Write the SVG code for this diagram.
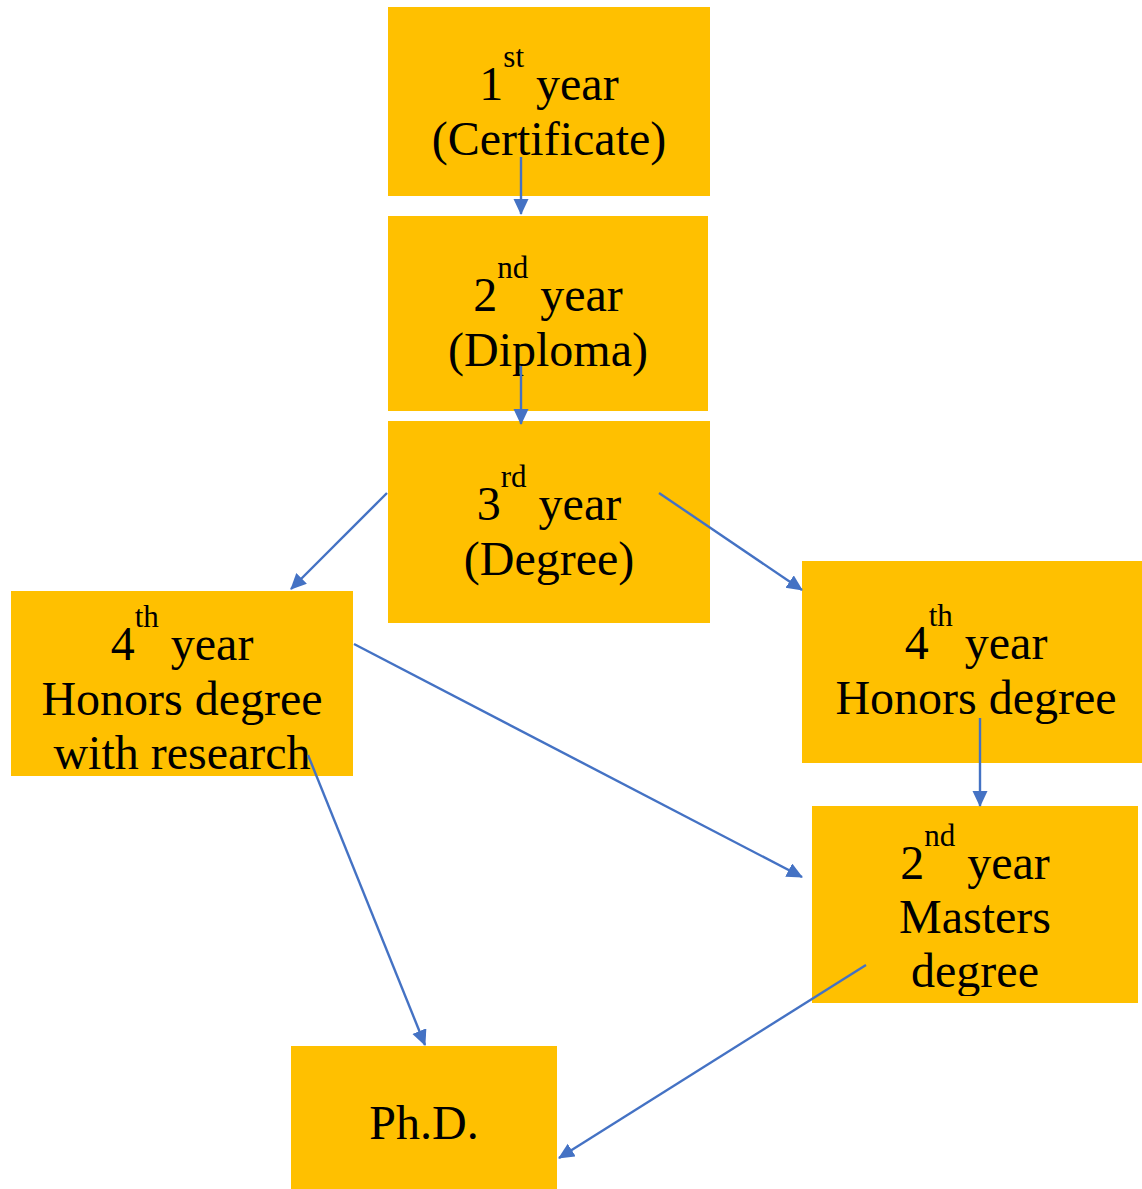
<svg xmlns="http://www.w3.org/2000/svg" width="1142" height="1189" viewBox="0 0 1142 1189">
<style>
.box{fill:#FFC000;}
.t{font-family:"Liberation Serif","Times New Roman",serif;font-size:48px;fill:#000;text-anchor:middle;}
.sup{font-size:31px;}
.c{stroke:#4472C4;stroke-width:2.4;fill:none;marker-end:url(#ah);}
</style>
<defs>
<marker id="ah" markerUnits="userSpaceOnUse" markerWidth="18" markerHeight="18" refX="15" refY="7.5" orient="auto">
<path d="M0,0 L16,7.5 L0,15 z" fill="#4472C4"/>
</marker>
<clipPath id="clipM"><rect x="812" y="806" width="326" height="190"/></clipPath>
</defs>
<rect width="1142" height="1189" fill="#fff"/>
<g id="n1">
<rect class="box" x="388" y="7" width="322" height="189"/>
<text class="t" x="549" y="100"><tspan>1</tspan><tspan class="sup" dy="-33">st</tspan><tspan dy="33"> year</tspan></text>
<text class="t" x="549" y="155">(Certificate)</text>
</g>
<g id="n2">
<rect class="box" x="388" y="216" width="320" height="195"/>
<text class="t" x="548" y="311"><tspan>2</tspan><tspan class="sup" dy="-33">nd</tspan><tspan dy="33"> year</tspan></text>
<text class="t" x="548" y="366">(Diploma)</text>
</g>
<g id="n3">
<rect class="box" x="388" y="421" width="322" height="202"/>
<text class="t" x="549" y="520"><tspan>3</tspan><tspan class="sup" dy="-33">rd</tspan><tspan dy="33"> year</tspan></text>
<text class="t" x="549" y="575">(Degree)</text>
</g>
<g id="n4l">
<rect class="box" x="11" y="591" width="342" height="185"/>
<text class="t" x="182" y="660"><tspan>4</tspan><tspan class="sup" dy="-33">th</tspan><tspan dy="33"> year</tspan></text>
<text class="t" x="182" y="715">Honors degree</text>
<text class="t" x="182" y="769">with research</text>
</g>
<g id="n4r">
<rect class="box" x="802" y="561" width="348" height="202"/>
<text class="t" x="976" y="659"><tspan>4</tspan><tspan class="sup" dy="-33">th</tspan><tspan dy="33"> year</tspan></text>
<text class="t" x="976" y="714">Honors degree</text>
</g>
<g id="n5">
<rect class="box" x="812" y="806" width="326" height="197"/>
<g clip-path="url(#clipM)">
<text class="t" x="975" y="879"><tspan>2</tspan><tspan class="sup" dy="-33">nd</tspan><tspan dy="33"> year</tspan></text>
<text class="t" x="975" y="933">Masters</text>
<text class="t" x="975" y="987">degree</text>
</g>
</g>
<g id="n6">
<rect class="box" x="291" y="1046" width="266" height="143"/>
<text class="t" x="424" y="1139">Ph.D.</text>
</g>
<g id="connectors">
<line class="c" x1="521" y1="157" x2="521" y2="214"/>
<line class="c" x1="521" y1="366" x2="521" y2="424"/>
<line class="c" x1="387" y1="493" x2="291" y2="589"/>
<line class="c" x1="659" y1="493" x2="802" y2="590"/>
<line class="c" x1="354" y1="644" x2="802" y2="877"/>
<line class="c" x1="980" y1="718" x2="980" y2="806"/>
<line class="c" x1="308" y1="755" x2="425" y2="1045"/>
<line class="c" x1="866" y1="965" x2="559" y2="1158"/>
</g>
</svg>
